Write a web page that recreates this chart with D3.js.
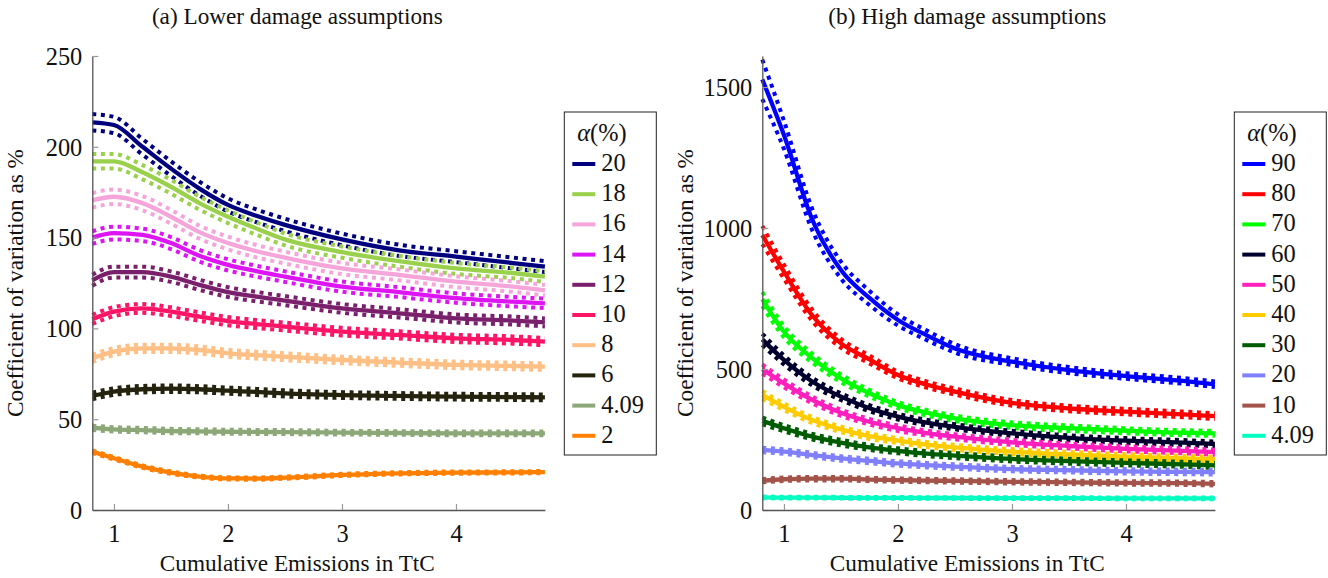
<!DOCTYPE html>
<html>
<head>
<meta charset="utf-8">
<script src="https://cdn.jsdelivr.net/npm/d3@7"></script>
<style>
  body { margin: 0; background: #fff; }
</style>
</head>
<body>
<div id="chart"></div>
<script>
// shared x grid (cumulative emissions, TtC)
var emissions = [0.81, 1.0, 1.25, 1.5, 1.75, 2.0, 2.25, 2.5, 3.0, 3.5, 4.0, 4.5, 4.78];

// (a) lower damage assumptions
var lowAlpha = ["20", "18", "16", "14", "12", "10", "8", "6", "4.09", "2"];
var lowMean = [
  [213.5, 212, 200, 188, 177, 168, 162, 157, 149, 143, 139.5, 136, 134],
  [192, 192, 186, 178, 169, 161.5, 155, 149, 142, 137, 133, 130.5, 128.5],
  [170.5, 172.5, 169, 161.5, 153, 147, 142.5, 139, 133, 129.5, 125.7, 123, 121],
  [150, 152.5, 151.5, 147, 140, 135, 131.5, 128.5, 123, 120, 116.7, 114.7, 113.8],
  [126.5, 131, 131, 128.5, 124, 120, 117.5, 115.3, 111, 108.3, 105.5, 104.3, 103.3],
  [105, 109.2, 111, 109.2, 106.5, 104, 102.4, 101, 98.2, 96.4, 94.5, 93.6, 92.7],
  [83.5, 87.2, 89, 89, 88.1, 86.3, 85.3, 84.4, 82.6, 81.2, 79.9, 79.3, 78.9],
  [62.8, 65.2, 66.5, 66.8, 66.5, 65.7, 65, 64.2, 63.3, 62.8, 62.4, 62.2, 62],
  [45.3, 44.4, 44, 43.5, 43.3, 43.1, 43, 42.9, 42.6, 42.4, 42.2, 42.2, 42.2],
  [32.1, 28.5, 23.9, 20.6, 18.4, 17.4, 17.3, 17.8, 19.3, 20.2, 20.6, 20.7, 20.9]
];
// half width of the band (upper/lower bounds drawn dotted)
var lowHalf = [
  [4.5, 4.5, 4.3, 4, 3.8, 3.6, 3.5, 3.4, 3.2, 3.1, 3, 3, 3],
  [4, 4, 3.9, 3.8, 3.6, 3.5, 3.4, 3.3, 3.1, 3, 3, 2.9, 2.9],
  [4, 4, 3.9, 3.8, 3.6, 3.5, 3.4, 3.3, 3.1, 3, 3, 2.9, 2.9],
  [3.5, 3.5, 3.4, 3.3, 3.2, 3.1, 3, 2.9, 2.8, 2.7, 2.6, 2.6, 2.6],
  [3, 3, 3, 2.9, 2.8, 2.7, 2.6, 2.5, 2.4, 2.3, 2.2, 2.2, 2.2],
  [2.5, 2.5, 2.4, 2.4, 2.3, 2.3, 2.2, 2.2, 2.1, 2, 2, 2, 2],
  [2, 2, 2, 2, 2, 1.9, 1.9, 1.9, 1.8, 1.8, 1.8, 1.8, 1.8],
  [1.8, 1.8, 1.8, 1.8, 1.7, 1.7, 1.7, 1.7, 1.6, 1.6, 1.6, 1.6, 1.6],
  [1.2, 1.2, 1.2, 1.2, 1.1, 1.1, 1.1, 1.1, 1, 1, 1, 1, 1],
  [0.7, 0.7, 0.7, 0.7, 0.6, 0.6, 0.6, 0.6, 0.6, 0.6, 0.6, 0.6, 0.6]
];
var lowColors = ["#00007f", "#99d04c", "#f5a5da", "#dd15f5", "#7a1f6c", "#fc1465", "#ffbf85", "#24240e", "#8da878", "#ff8000"];
var lowTicks = [0, 50, 100, 150, 200, 250];

// (b) high damage assumptions
var highAlpha = ["90", "80", "70", "60", "50", "40", "30", "20", "10", "4.09"];
var highMean = [
  [1527, 1330, 1028, 851, 752, 674, 620, 573, 526, 496, 475, 458, 446],
  [975, 845, 689, 591, 534, 479, 445, 420, 380, 360, 349, 339, 333],
  [748, 632, 538, 467, 414, 372, 345, 325, 301, 290, 281, 274, 272],
  [605, 532, 455, 402, 361, 331, 310, 295, 272, 256, 246, 239, 234],
  [500, 449, 390, 345, 313, 290, 273, 260, 240, 227, 217, 210, 205],
  [408, 366, 319, 286, 262, 246, 232, 222, 207, 197, 189, 183, 180],
  [316, 290, 260, 239, 222, 210, 200, 193, 181, 173, 167, 162, 158],
  [213, 207, 195, 183, 174, 165, 159, 154, 145, 141, 137, 135, 134],
  [104, 109, 111, 111, 108, 106, 104.5, 103, 100, 98, 96, 95, 93],
  [45, 44, 44, 43.5, 43, 43, 42.5, 42.5, 42, 42, 41.5, 41.5, 41.5]
];
var highHalf = [
  [70, 50, 38, 30, 25, 20, 17, 15, 12, 11, 10, 10, 10],
  [32, 25, 20, 16, 14, 12, 11, 11, 10, 10, 10, 10, 10],
  [25, 20, 16, 14, 12, 11, 10, 10, 10, 10, 9, 9, 9],
  [20, 16, 14, 12, 11, 10, 10, 9, 9, 9, 9, 9, 9],
  [16, 14, 12, 11, 10, 10, 9, 9, 9, 9, 9, 9, 9],
  [14, 12, 11, 10, 10, 9, 9, 9, 9, 9, 9, 9, 9],
  [12, 11, 10, 10, 9, 9, 9, 9, 9, 9, 9, 9, 9],
  [8, 8, 8, 8, 8, 8, 8, 8, 8, 8, 8, 8, 8],
  [6, 6, 6, 6, 6, 6, 6, 6, 6, 6, 6, 6, 6],
  [3, 3, 3, 3, 3, 3, 3, 3, 3, 3, 3, 3, 3]
];
var highColors = ["#0000ff", "#ff0000", "#00ff00", "#00002e", "#ff1fbd", "#ffcc00", "#005c00", "#8080ff", "#a3534a", "#00ffc0"];
var highTicks = [0, 500, 1000, 1500];

var xTicks = [1, 2, 3, 4];

var W = 1328, H = 578;
var svg = d3.select('#chart').append('svg')
  .attr('width', W)
  .attr('height', H);

// find an installed serif face (width differs from the monospace fallback)
function textWidth(family, s) {
  var t = svg.append('text').attr('font-size', 40).attr('font-family', family).text(s);
  var w = t.node().getComputedTextLength();
  t.remove();
  return w;
}
var sample = 'mmmWWlliiQ(a) Lower damage 0123456789';
var monoW = textWidth('monospace', sample);
var FONT = 'serif';
['Liberation Serif', 'DejaVu Serif', 'Noto Serif', 'FreeSerif', 'Nimbus Roman', 'Times New Roman', 'Tinos'].some(function(f) {
  if (Math.abs(textWidth('"' + f + '", monospace', sample) - monoW) > 1) { FONT = '"' + f + '", serif'; return true; }
  return false;
});
svg.attr('font-family', FONT);

// pick a font size so the first title is as wide as in the reference (~291px)
var probe = svg.append('text').attr('font-size', 20).text('(a) Lower damage assumptions');
var FS = Math.max(16, Math.min(24, 20 * 291 / probe.node().getComputedTextLength()));
probe.remove();

function panel(opt) {
  var x = d3.scaleLinear().domain([0.81, 4.78]).range([opt.left, opt.left + 452.6]);
  var y = d3.scaleLinear().domain([0, opt.ymax]).range([510, 56]);
  var g = svg.append('g');

  // title
  g.append('text')
    .attr('x', opt.left + 205).attr('y', 24)
    .attr('text-anchor', 'middle')
    .attr('font-size', FS).attr('fill', '#111')
    .text(opt.title);

  // series: mean solid, bounds dotted
  var line = d3.line()
    .x(function(d) { return x(d[0]); })
    .y(function(d) { return y(d[1]); })
    .curve(d3.curveMonotoneX);

  for (var i = 0; i < opt.mean.length; i++) {
    var m = opt.mean[i], h = opt.half[i];
    var mid = emissions.map(function(e, k) { return [e, m[k]]; });
    var up = emissions.map(function(e, k) { return [e, m[k] + h[k]]; });
    var lo = emissions.map(function(e, k) { return [e, m[k] - h[k]]; });
    g.append('path').attr('d', line(mid))
      .attr('fill', 'none').attr('stroke', opt.colors[i]).attr('stroke-width', 4.3);
    [up, lo].forEach(function(b) {
      g.append('path').attr('d', line(b))
        .attr('fill', 'none').attr('stroke', opt.colors[i])
        .attr('stroke-width', 4).attr('stroke-dasharray', '4 4.6');
    });
  }

  // axes
  var ya = g.append('g').attr('transform', 'translate(' + opt.left + ',0)')
    .call(d3.axisLeft(y).tickValues(opt.yticks).tickFormat(d3.format('d'))
      .tickSizeInner(-6).tickSizeOuter(0).tickPadding(10));
  var xa = g.append('g').attr('transform', 'translate(0,510)')
    .call(d3.axisBottom(x).tickValues(xTicks).tickFormat(d3.format('d'))
      .tickSizeInner(-6).tickSizeOuter(0).tickPadding(10));
  [ya, xa].forEach(function(a) {
    a.attr('font-family', FONT).attr('font-size', null);
    a.select('.domain').attr('stroke', '#555').attr('stroke-width', 1.3);
    a.selectAll('.tick line').attr('stroke', '#999').attr('stroke-width', 1.2);
    a.selectAll('.tick text').attr('font-size', FS * 1.05).attr('fill', '#111');
  });
  xa.selectAll('.tick text').attr('dy', '0.9em');
  ya.selectAll('.tick text').attr('dy', '0.34em');

  // axis labels
  g.append('text')
    .attr('x', opt.left + 205).attr('y', 571)
    .attr('text-anchor', 'middle').attr('font-size', FS).attr('fill', '#111')
    .text('Cumulative Emissions in TtC');
  g.append('text')
    .attr('transform', 'translate(' + (opt.left - 69) + ',283) rotate(-90)')
    .attr('text-anchor', 'middle').attr('font-size', FS).attr('fill', '#111')
    .text('Coefficient of variation as %');

  // legend
  var lx = opt.left + 472;
  var lg = g.append('g').attr('transform', 'translate(' + lx + ',112)');
  lg.append('rect').attr('x', 0).attr('y', 0).attr('width', 92).attr('height', 343)
    .attr('fill', '#fff').attr('stroke', '#222').attr('stroke-width', 1);
  var t = lg.append('text').attr('x', 13).attr('y', 29).attr('font-size', FS * 1.05).attr('fill', '#111');
  t.append('tspan').attr('font-style', 'italic').text('α');
  t.append('tspan').text('(%)');
  opt.alpha.forEach(function(a, i) {
    var yy = 52 + i * 30.2;
    lg.append('line').attr('x1', 8).attr('x2', 31).attr('y1', yy).attr('y2', yy)
      .attr('stroke', opt.colors[i]).attr('stroke-width', 4);
    lg.append('text').attr('x', 37).attr('y', yy + 7).attr('font-size', FS * 1.05)
      .attr('fill', '#111').text(a);
  });
}

panel({ left: 92.3, ymax: 250, yticks: lowTicks, mean: lowMean, half: lowHalf,
  colors: lowColors, alpha: lowAlpha, title: '(a) Lower damage assumptions' });
panel({ left: 762.3, ymax: 1610, yticks: highTicks, mean: highMean, half: highHalf,
  colors: highColors, alpha: highAlpha, title: '(b) High damage assumptions' });
</script>
</body>
</html>
